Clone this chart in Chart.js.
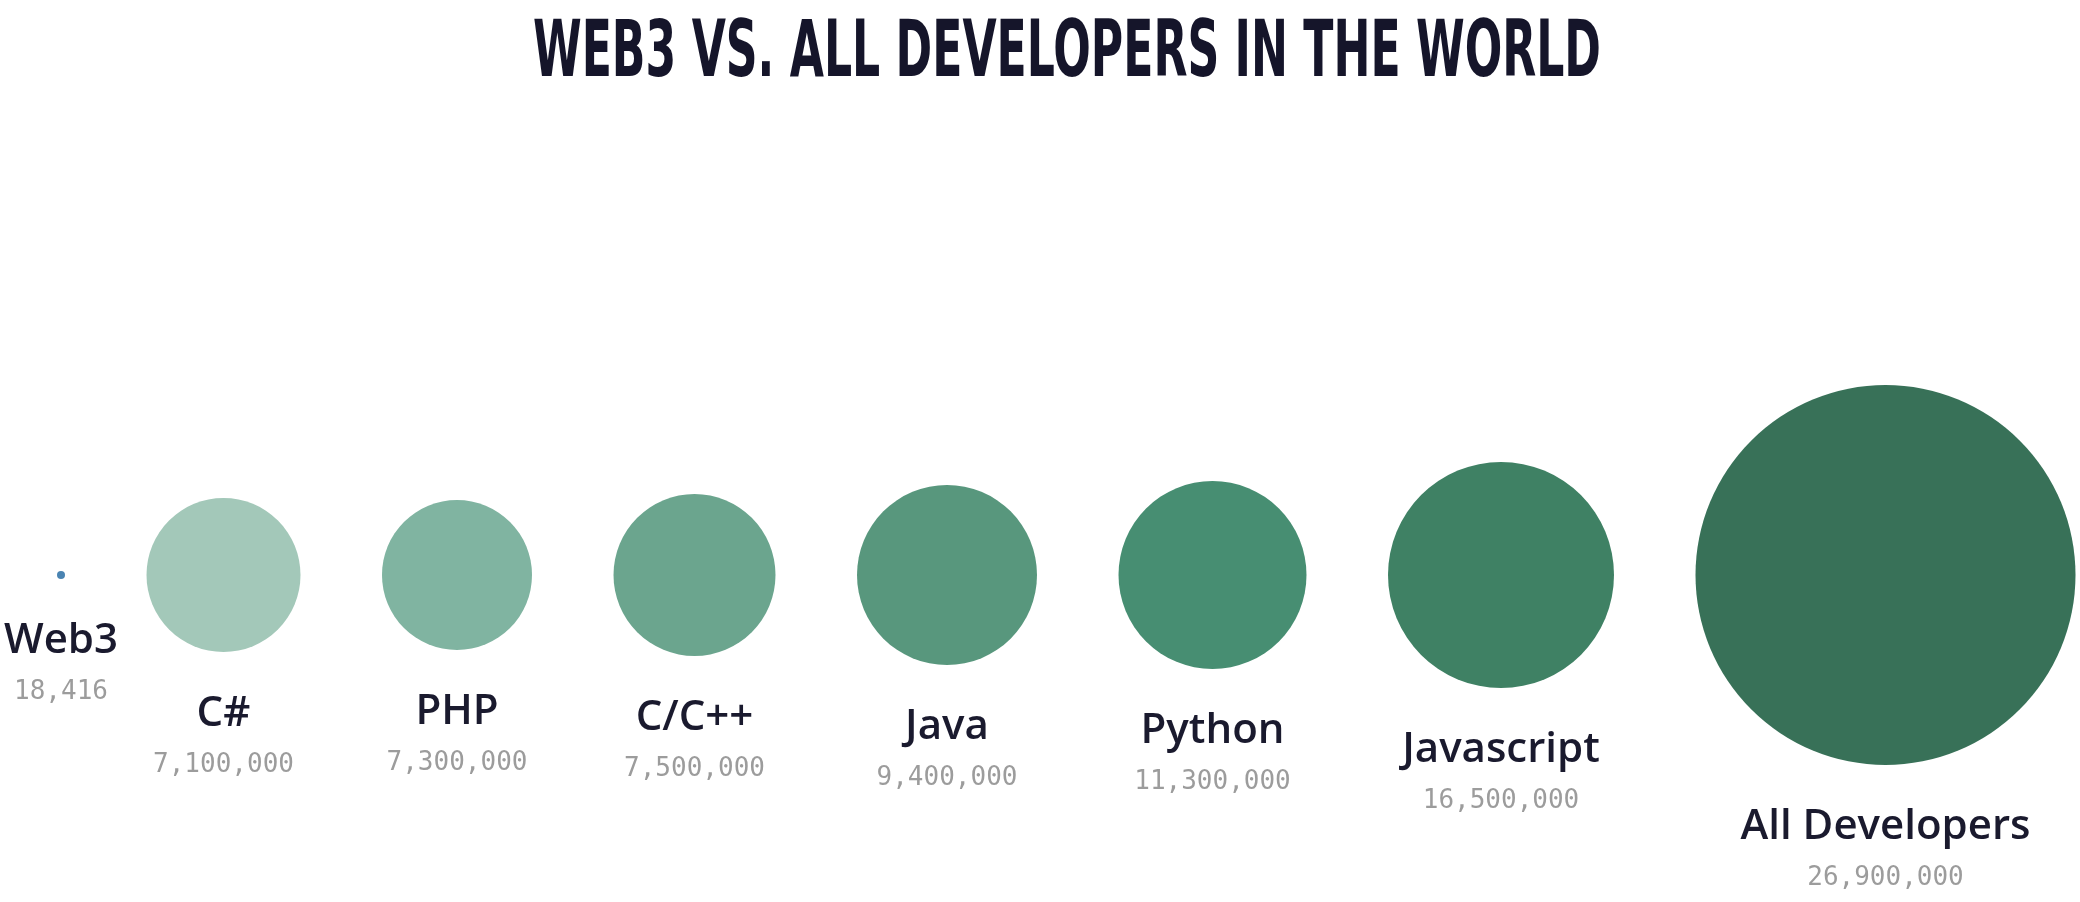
<!DOCTYPE html>
<html>
<head>
<meta charset="utf-8">
<script src="https://cdn.jsdelivr.net/npm/chart.js@4.4.1/dist/chart.umd.min.js"></script>
<style>
  html, body { margin: 0; padding: 0; background: #ffffff; }
  #wrap { width: 2080px; height: 902px; position: relative; }
</style>
</head>
<body>
<div id="wrap"><canvas id="c" width="2080" height="902"></canvas></div>
<script>
// ---- data ----
const titleText = "WEB3 VS. ALL DEVELOPERS IN THE WORLD";
const categories = ["Web3", "C#", "PHP", "C/C++", "Java", "Python", "Javascript", "All Developers"];
const developers = [18416, 7100000, 7300000, 7500000, 9400000, 11300000, 16500000, 26900000];
const valueLabels = ["18,416", "7,100,000", "7,300,000", "7,500,000", "9,400,000", "11,300,000", "16,500,000", "26,900,000"];

// ---- styling (display sizes, colours) ----
const bubbleRadii = [4, 77, 75, 81, 90, 94, 113, 190];
const bubbleColors = ["#4a84b2", "#a3c8b9", "#80b4a1", "#6ba58e", "#58977d", "#478e72", "#3f8164", "#387158"];
const bubbleGap = 81.5;
const firstCenter = 61;

// layout: place bubbles side by side with a constant gap
const xPositions = [];
bubbleRadii.forEach((r, i) => {
  if (i === 0) xPositions.push(firstCenter);
  else xPositions.push(xPositions[i - 1] + bubbleRadii[i - 1] + bubbleGap + r);
});

const points = developers.map((v, i) => ({ x: xPositions[i], y: 0, v: v }));

const titlePlugin = {
  id: 'condensedTitle',
  afterDraw(chart) {
    const ctx = chart.ctx;
    ctx.save();
    ctx.font = "bold 78px 'DejaVu Sans'";
    const w = ctx.measureText(titleText).width;
    const targetW = 1068;
    const sx = targetW / w;
    ctx.translate(1067, 76);
    ctx.scale(sx, 1);
    ctx.fillStyle = "#15152a";
    ctx.textAlign = "center";
    ctx.textBaseline = "alphabetic";
    ctx.fillText(titleText, 0, 0);
    ctx.restore();
  }
};

const labelPlugin = {
  id: 'bubbleLabels',
  afterDatasetsDraw(chart) {
    const ctx = chart.ctx;
    const meta = chart.getDatasetMeta(0);
    ctx.save();
    ctx.textAlign = "center";
    ctx.textBaseline = "alphabetic";
    meta.data.forEach((el, i) => {
      const bottom = el.y + el.options.radius;
      ctx.fillStyle = "#1a1a2e";
      ctx.font = "600 42px 'Open Sans'";
      ctx.fillText(categories[i], el.x, bottom + 74);
      ctx.fillStyle = "#9c9c9c";
      ctx.font = "26px 'DejaVu Sans Mono'";
      ctx.fillText(valueLabels[i], el.x, bottom + 120);
    });
    ctx.restore();
  }
};

new Chart(document.getElementById('c'), {
  type: 'bubble',
  data: {
    labels: categories,
    datasets: [{
      label: 'Developers',
      data: points,
      backgroundColor: bubbleColors,
      hoverBackgroundColor: bubbleColors,
      borderWidth: 0,
      hoverBorderWidth: 0,
      radius: bubbleRadii,
      hoverRadius: 0,
      clip: false
    }]
  },
  options: {
    responsive: false,
    animation: false,
    events: [],
    layout: { autoPadding: false, padding: { top: 348, bottom: 100, left: 0, right: 0 } },
    plugins: {
      legend: { display: false },
      tooltip: { enabled: false },
      title: { display: false }
    },
    scales: {
      x: { type: 'linear', min: 0, max: 2080, display: false },
      y: { type: 'linear', min: -1, max: 1, display: false }
    }
  },
  plugins: [titlePlugin, labelPlugin]
});
</script>
</body>
</html>
